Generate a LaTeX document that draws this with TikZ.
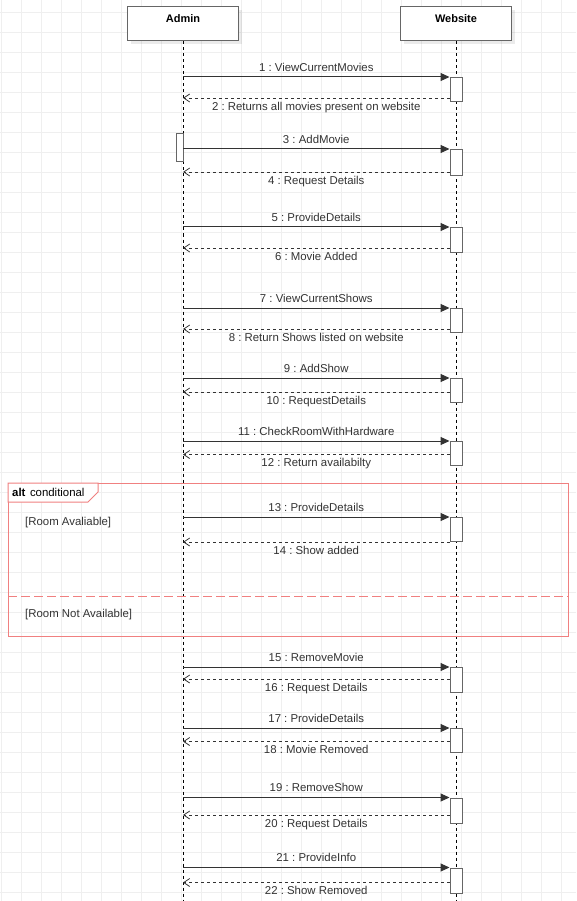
\documentclass[tikz,border=0pt]{standalone}
\usepackage{fontspec}
\setmainfont{Liberation Sans}
\usetikzlibrary{arrows.meta,shadows,positioning}
\definecolor{gridgray}{HTML}{EFEFEF}
\definecolor{boxgray}{HTML}{666666}
\definecolor{altred}{HTML}{F08080}
\definecolor{txtgray}{HTML}{333333}
\frenchspacing
\tikzset{
  gridline/.style={draw=gridgray,line width=0.8pt},
  actor/.style={draw=boxgray,line width=1pt,fill=white,minimum width=111pt,inner xsep=0pt,inner ysep=3pt,
    text height=12.3pt,text depth=15.7pt,font=\fontsize{11}{13}\selectfont\bfseries,
    drop shadow={shadow xshift=3pt,shadow yshift=-3pt,fill=black,opacity=0.08}},
  lifeline/.style={draw=black,line width=0.8pt,dash pattern=on 3pt off 3pt},
  actbox/.style={draw=boxgray,line width=1pt,fill=white,minimum width=12pt,inner sep=0pt,anchor=north},
  call/.style={draw=txtgray,line width=1pt,-{Triangle[length=9pt,width=8pt]}},
  reply/.style={draw=txtgray,line width=0.8pt,dash pattern=on 3pt off 3pt,-{Straight Barb[length=6pt,width=8pt]}},
  msgtext/.style={text=txtgray,text height=8pt,text depth=2.5pt,inner sep=0pt},
  calltext/.style={msgtext,yshift=8.3pt},
  replytext/.style={msgtext,yshift=-9.7pt},
  altline/.style={draw=altred,line width=1pt},
  altdash/.style={draw=altred,line width=1pt,dash pattern=on 9pt off 4pt}
}
\begin{document}
\begin{tikzpicture}[x=1pt,y=-1pt,font=\fontsize{11.4}{13}\selectfont]
\useasboundingbox (0,0) rectangle (576,901);
\fill[white] (0,0) rectangle (576,901);
% background grid
\foreach \gx in {1.7,21.7,...,576} \draw[gridline] (\gx,0) -- (\gx,901);
\foreach \gy in {12.3,32.3,...,901} \draw[gridline] (0,\gy) -- (576,\gy);

% participants
\node[actor] (admin) at (183,24) {Admin};
\node[actor] (web) at (456,24) {Website};
\coordinate (adminend) at (183,901);
\coordinate (webend) at (456,901);
\draw[lifeline] (admin) -- (adminend);
\draw[lifeline] (web) -- (webend);

% alt fragment
\node[altline,anchor=north west,minimum width=560pt,minimum height=153pt,inner sep=0pt] (alt) at (8,483) {};
\draw[altline,fill=white] (alt.north west) -- ++(90,0) -- ++(0,9) -- ++(-10,10) -- ++(-80,0) -- cycle;
\node[msgtext,anchor=west,text=black] (altname) at (12,493.7) {\textbf{alt}\hspace{4.5pt}conditional};
\coordinate (sepl) at (8,596);
\coordinate (sepr) at (568,596);
\draw[altdash] (sepl) -- (sepr);
\node[msgtext,anchor=west] (guard1) at (25,522.8) {[Room Avaliable]};
\node[msgtext,anchor=west] (guard2) at (25,614.3) {[Room Not Available]};

% activations
\node[actbox,minimum width=7pt,minimum height=28pt] (adm3) at (179.5,133) {};
\node[actbox,minimum height=24pt] (w1) at (456,77) {};
\node[actbox,minimum height=26pt] (w3) at (456,149) {};
\node[actbox,minimum height=25pt] (w5) at (456,227) {};
\node[actbox,minimum height=24pt] (w7) at (456,308) {};
\node[actbox,minimum height=24pt] (w9) at (456,378) {};
\node[actbox,minimum height=24pt] (w11) at (456,441) {};
\node[actbox,minimum height=24pt] (w13) at (456,517) {};
\node[actbox,minimum height=25pt] (w15) at (456,667) {};
\node[actbox,minimum height=24pt] (w17) at (456,728) {};
\node[actbox,minimum height=25pt] (w19) at (456,797.5) {};
\node[actbox,minimum height=25pt] (w21) at (456,867.5) {};

% messages
\coordinate (a1) at (183,77);   \coordinate (a2) at (183,98);
\coordinate (a3) at (183,149);  \coordinate (a4) at (183,172);
\coordinate (a5) at (183,227);  \coordinate (a6) at (183,248);
\coordinate (a7) at (183,308);  \coordinate (a8) at (183,329);
\coordinate (a9) at (183,378);  \coordinate (a10) at (183,392);
\coordinate (a11) at (183,441); \coordinate (a12) at (183,454.5);
\coordinate (a13) at (183,517); \coordinate (a14) at (183,542);
\coordinate (a15) at (183,667); \coordinate (a16) at (183,679);
\coordinate (a17) at (183,728); \coordinate (a18) at (183,741.5);
\coordinate (a19) at (183,797.5); \coordinate (a20) at (183,815);
\coordinate (a21) at (183,867.5); \coordinate (a22) at (183,882.5);
\path
(a1) edge[call] node[calltext]{1 : ViewCurrentMovies} (w1.north west)
(w1.west |- a2) edge[reply] node[replytext]{2 : Returns all movies present on website} (a2)
(a3) edge[call] node[calltext]{3 : AddMovie} (w3.north west)
(w3.west |- a4) edge[reply] node[replytext]{4 : Request Details} (a4)
(a5) edge[call] node[calltext]{5 : ProvideDetails} (w5.north west)
(w5.west |- a6) edge[reply] node[replytext]{6 : Movie Added} (a6)
(a7) edge[call] node[calltext]{7 : ViewCurrentShows} (w7.north west)
(w7.west |- a8) edge[reply] node[replytext]{8 : Return Shows listed on website} (a8)
(a9) edge[call] node[calltext]{9 : AddShow} (w9.north west)
(w9.west |- a10) edge[reply] node[replytext]{10 : RequestDetails} (a10)
(a11) edge[call] node[calltext]{11 : CheckRoomWithHardware} (w11.north west)
(w11.west |- a12) edge[reply] node[replytext]{12 : Return availabilty} (a12)
(a13) edge[call] node[calltext]{13 : ProvideDetails} (w13.north west)
(w13.west |- a14) edge[reply] node[replytext]{14 : Show added} (a14)
(a15) edge[call] node[calltext]{15 : RemoveMovie} (w15.north west)
(w15.west |- a16) edge[reply] node[replytext]{16 : Request Details} (a16)
(a17) edge[call] node[calltext]{17 : ProvideDetails} (w17.north west)
(w17.west |- a18) edge[reply] node[replytext]{18 : Movie Removed} (a18)
(a19) edge[call] node[calltext]{19 : RemoveShow} (w19.north west)
(w19.west |- a20) edge[reply] node[replytext]{20 : Request Details} (a20)
(a21) edge[call] node[calltext]{21 : ProvideInfo} (w21.north west)
(w21.west |- a22) edge[reply] node[replytext]{22 : Show Removed} (a22);
\end{tikzpicture}
\end{document}
